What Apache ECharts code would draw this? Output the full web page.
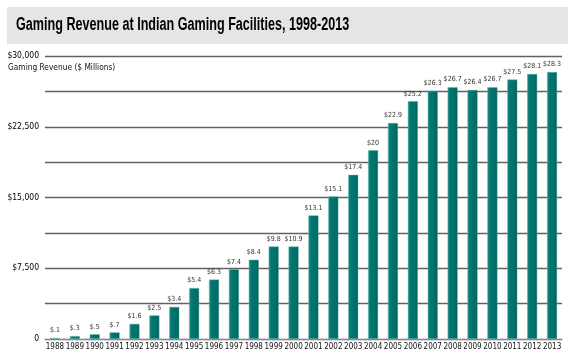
<!DOCTYPE html>
<html><head><meta charset="utf-8">
<script src="https://cdn.jsdelivr.net/npm/echarts@6/dist/echarts.min.js"></script>
<style>html,body{margin:0;padding:0;background:#fff}#c{width:575px;height:359px}</style>
</head><body><div id="c"></div>
<script>
const years = ['1988','1989','1990','1991','1992','1993','1994','1995','1996','1997','1998','1999','2000','2001','2002','2003','2004','2005','2006','2007','2008','2009','2010','2011','2012','2013'];
// bar heights in $ millions
const revenue = [100,300,500,700,1600,2500,3400,5400,6300,7400,8400,9800,9800,13100,15100,17400,20000,22900,25200,26300,26700,26400,26700,27500,28100,28300];
// value labels printed above the bars ($ billions)
const valueLabels = ['$.1','$.3','$.5','$.7','$1.6','$2.5','$3.4','$5.4','$6.3','$7.4','$8.4','$9.8','$10.9','$13.1','$15.1','$17.4','$20','$22.9','$25.2','$26.3','$26.7','$26.4','$26.7','$27.5','$28.1','$28.3'];
const yTicks = {0:'0',7500:'$7,500',15000:'$15,000',22500:'$22,500',30000:'$30,000'};

const cond = "'DejaVu Sans Condensed','Liberation Sans',sans-serif";
const chart = echarts.init(document.getElementById('c'), null, {renderer:'canvas'});
chart.setOption({
  animation:false,
  backgroundColor:'#fff',
  graphic:[
    {type:'rect', shape:{x:7,y:7,width:561,height:37}, style:{fill:'#e5e5e6'}},
    {type:'text', x:16, y:16.5, scaleX:0.72, style:{text:'Gaming Revenue at Indian Gaming Facilities, 1998-2013', font:"bold 17.5px 'Liberation Sans',Arial,sans-serif", fill:'#000', shadowColor:'rgba(0,0,0,0.4)', shadowBlur:1.5, shadowOffsetX:0.5, shadowOffsetY:0.8}},
    {type:'text', x:8, y:64, style:{text:'Gaming Revenue ($ Millions)', font:"8.3px "+cond, fill:'#111'}}
  ],
  grid:{left:45, right:13, top:56, bottom:20, containLabel:false},
  xAxis:{
    type:'category', data:years,
    axisLine:{lineStyle:{color:'#888', width:1}},
    axisTick:{show:false},
    axisLabel:{interval:0, margin:4, color:'#111', fontSize:8, fontFamily:cond}
  },
  yAxis:{
    type:'value', min:0, max:30000, interval:3750,
    axisLine:{show:false}, axisTick:{show:false},
    splitLine:{lineStyle:{color:'#666060', width:1.3}},
    axisLabel:{margin:6, color:'#000', fontSize:8.5, fontFamily:cond,
      formatter:v=> (yTicks[v]!==undefined ? yTicks[v] : '')}
  },
  series:[{
    type:'bar', data:revenue, barWidth:10,
    itemStyle:{
      color:{type:'linear',x:0,y:0,x2:1,y2:0,colorStops:[
        {offset:0,color:'#1f8c85'},{offset:0.25,color:'#00776f'},{offset:0.8,color:'#006e67'},{offset:1,color:'#00524d'}]},
      borderColor:'#5fb3ad', borderWidth:0.5
    },
    label:{show:true, position:'top', distance:4, color:'#333', fontSize:7, fontFamily:cond,
      formatter:p=>valueLabels[p.dataIndex]}
  }]
});
</script></body></html>
